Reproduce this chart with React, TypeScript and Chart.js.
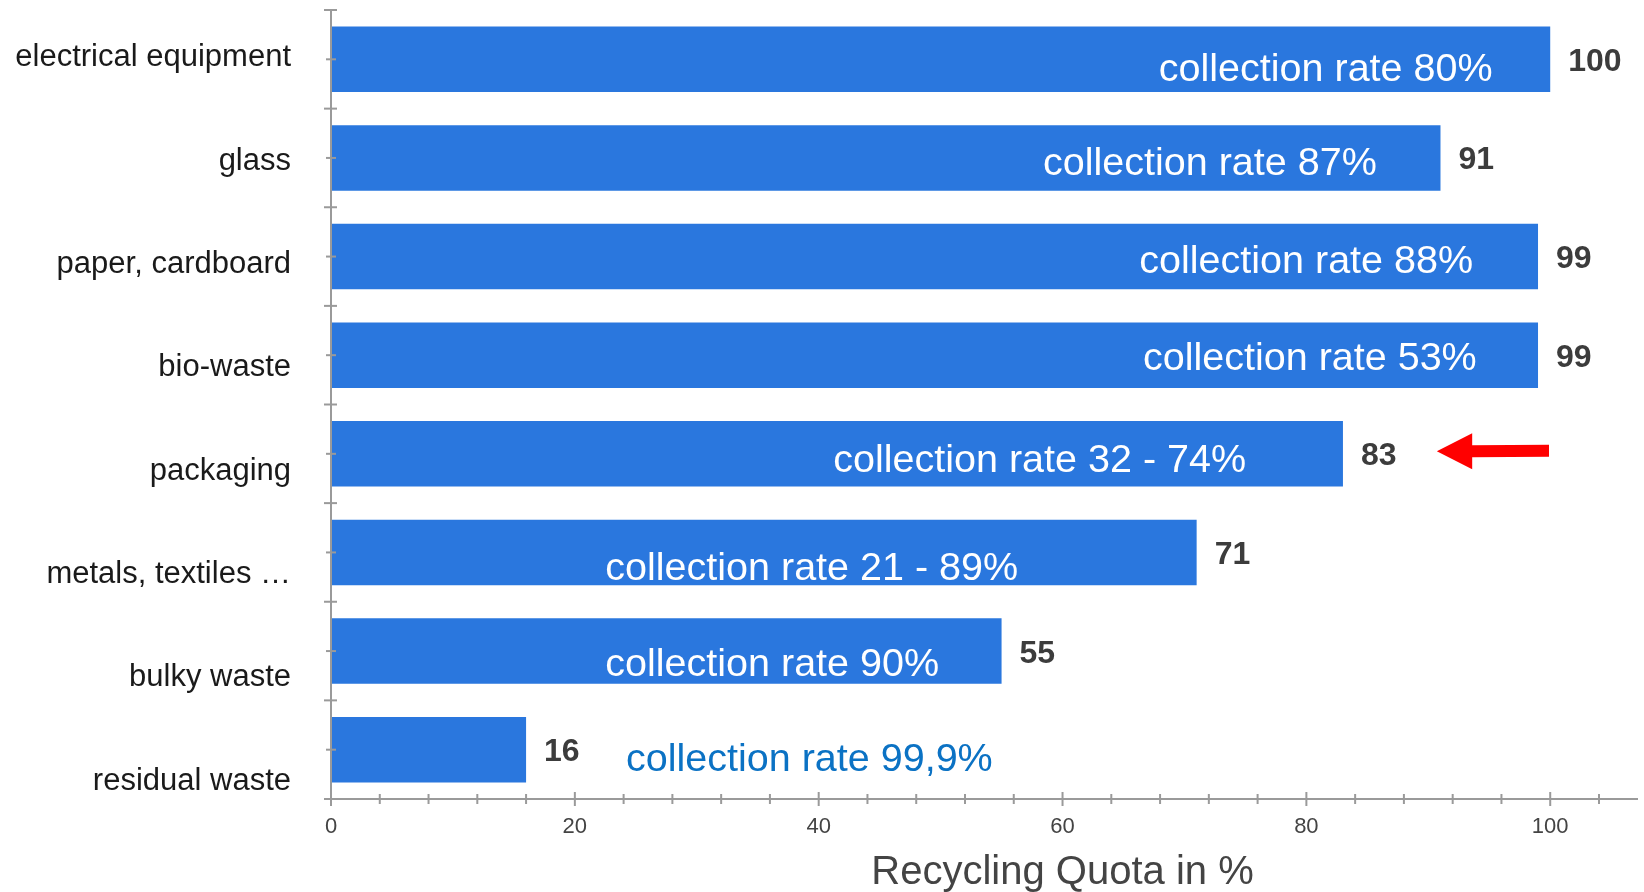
import React, { useEffect, useRef } from 'react';
import { Chart, registerables } from 'chart.js';

Chart.register(...registerables);

// ---- data ----
const categories = [
  'electrical equipment',
  'glass',
  'paper, cardboard',
  'bio-waste',
  'packaging',
  'metals, textiles …',
  'bulky waste',
  'residual waste',
];
const recyclingQuota = [100, 91, 99, 99, 83, 71, 55, 16];
const collectionRates = [
  'collection rate 80%',
  'collection rate 87%',
  'collection rate 88%',
  'collection rate 53%',
  'collection rate 32 - 74%',
  'collection rate 21 - 89%',
  'collection rate 90%',
  'collection rate 99,9%',
];
const xTickValues = [0, 20, 40, 60, 80, 100];
const xMinorStep = 4;
const xAxisMax = 107.2;
const xAxisTitle = 'Recycling Quota in %';
const highlightedCategory = 'packaging';

// ---- annotation layout (data units / px offsets) ----
const rateLabelStart = [67.9, 58.4, 66.3, 66.6, 41.2, 22.5, 22.5, 24.2];
const rateLabelDy = [22, 17.5, 16, 14.5, 18, 28, 25, 21.5];
const rateLabelColor = ['#ffffff', '#ffffff', '#ffffff', '#ffffff', '#ffffff', '#ffffff', '#ffffff', '#0B72C4'];
const arrowFrom = 99.9;
const arrowTo = 90.7;
const arrowHeadBase = 93.6;

const FONT = '"Liberation Sans", Arial, Helvetica, sans-serif';
const BAR_COLOR = '#2A77DE';
const AXIS_COLOR = '#9a9a9a';

const decorPlugin = {
  id: 'decor',
  afterDatasetsDraw(chart: any) {
    const { ctx, chartArea: a, scales } = chart;
    const xs = scales.x;
    const ys = scales.y;
    const n = categories.length;
    const x0 = xs.getPixelForValue(0);
    const centers = categories.map((_, i) => ys.getPixelForValue(i));
    const band = n > 1 ? centers[1] - centers[0] : a.bottom - a.top;

    ctx.save();
    const line = (x1: number, y1: number, x2: number, y2: number) => {
      ctx.beginPath();
      ctx.moveTo(x1, y1);
      ctx.lineTo(x2, y2);
      ctx.stroke();
    };
    ctx.strokeStyle = AXIS_COLOR;
    ctx.lineWidth = 2;
    // axis lines
    line(x0, a.top, x0, a.bottom + 1);
    line(x0 - 1, a.bottom, a.right, a.bottom);
    // y ticks: boundaries and centers
    for (let i = 0; i <= n; i++) {
      const yy = centers[0] - band / 2 + i * band;
      line(x0 - 7, yy, x0 + 6, yy);
    }
    centers.forEach((c) => line(x0 - 5, c, x0 + 5, c));
    // x ticks
    for (let v = 0; v <= xAxisMax; v += xMinorStep) {
      const px = xs.getPixelForValue(v);
      const major = xTickValues.includes(v);
      const h = major ? 7 : 5;
      line(px, a.bottom - h, px, a.bottom + h);
    }

    // x tick labels
    ctx.fillStyle = '#444444';
    ctx.font = `22px ${FONT}`;
    ctx.textAlign = 'center';
    ctx.textBaseline = 'alphabetic';
    xTickValues.forEach((v) => {
      ctx.fillText(String(v), xs.getPixelForValue(v), a.bottom + 33.5);
    });
    // x title
    ctx.font = `40px ${FONT}`;
    ctx.fillText(xAxisTitle, xs.getPixelForValue(60), a.bottom + 85);

    // y category labels
    ctx.fillStyle = '#1a1a1a';
    ctx.font = `31px ${FONT}`;
    ctx.textAlign = 'right';
    categories.forEach((c, i) => {
      ctx.fillText(c, x0 - 40, centers[i] + 7 + 4.7 * i);
    });

    // value labels
    ctx.fillStyle = '#3c3c3c';
    ctx.font = `bold 32px ${FONT}`;
    ctx.textAlign = 'left';
    recyclingQuota.forEach((v, i) => {
      ctx.fillText(String(v), xs.getPixelForValue(v) + 18, centers[i] + 11.5);
    });

    // collection rate labels
    ctx.font = `39.5px ${FONT}`;
    collectionRates.forEach((t, i) => {
      ctx.fillStyle = rateLabelColor[i];
      ctx.fillText(t, xs.getPixelForValue(rateLabelStart[i]), centers[i] + rateLabelDy[i]);
    });

    // arrow
    const hi = categories.indexOf(highlightedCategory);
    if (hi >= 0) {
      const cy = centers[hi] - 2.5;
      const tip = xs.getPixelForValue(arrowTo);
      const base = xs.getPixelForValue(arrowHeadBase);
      const tail = xs.getPixelForValue(arrowFrom);
      ctx.fillStyle = '#FF0000';
      ctx.beginPath();
      ctx.moveTo(tip, cy);
      ctx.lineTo(base, cy - 18);
      ctx.lineTo(base, cy - 6);
      ctx.lineTo(tail, cy - 6.5);
      ctx.lineTo(tail, cy + 5.5);
      ctx.lineTo(base, cy + 6);
      ctx.lineTo(base, cy + 18);
      ctx.closePath();
      ctx.fill();
    }
    ctx.restore();
  },
};

export default function App() {
  const canvasRef = useRef<HTMLCanvasElement | null>(null);

  useEffect(() => {
    document.body.style.margin = '0';
    const canvas = canvasRef.current;
    if (!canvas) return;
    const chart = new Chart(canvas, {
      type: 'bar',
      data: {
        labels: categories,
        datasets: [
          {
            label: 'Recycling Quota in %',
            data: recyclingQuota,
            backgroundColor: BAR_COLOR,
            borderWidth: 0,
            barPercentage: 0.665,
            categoryPercentage: 1,
          },
        ],
      },
      options: {
        indexAxis: 'y',
        animation: false,
        responsive: true,
        maintainAspectRatio: false,
        layout: { padding: { left: 331, right: 6, top: 10, bottom: 93 } },
        plugins: {
          legend: { display: false },
          tooltip: { enabled: false },
          title: { display: false },
        },
        scales: {
          x: { type: 'linear', min: 0, max: xAxisMax, display: false },
          y: { type: 'category', display: false, offset: true },
        },
      },
      plugins: [decorPlugin],
    });
    return () => chart.destroy();
  }, []);

  return (
    <div style={{ position: 'absolute', left: 0, top: 0, width: 1644, height: 892, background: '#fff' }}>
      <canvas ref={canvasRef} />
    </div>
  );
}
